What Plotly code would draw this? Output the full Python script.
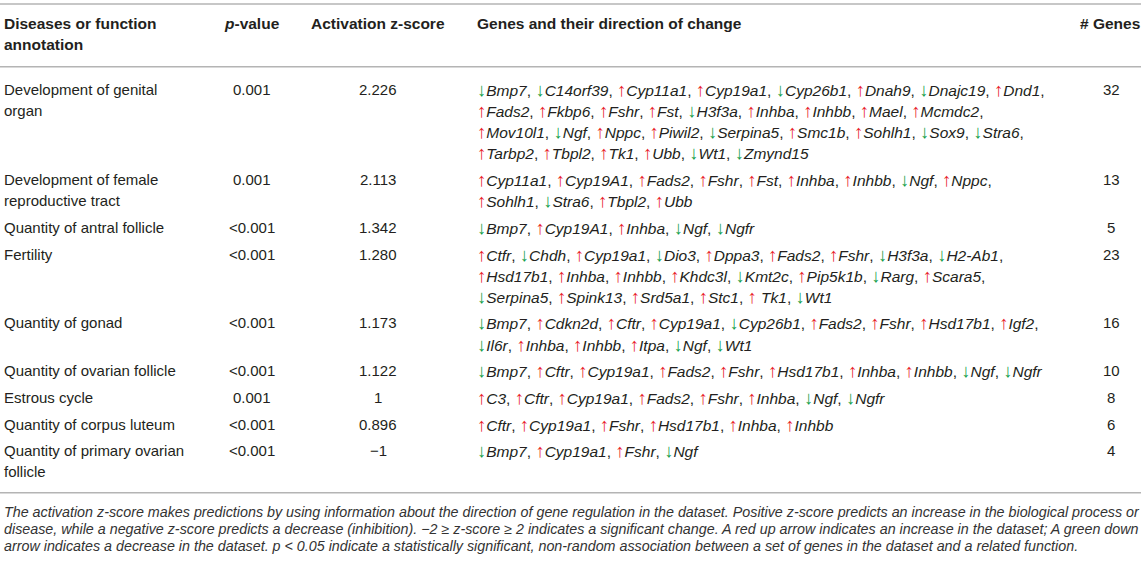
import plotly.graph_objects as go

# ---------------- data ----------------
headers = ["Diseases or function annotation", "<i>p</i>-value", "Activation z-score",
           "Genes and their direction of change", "# Genes"]

diseases = [
    "Development of genital organ",
    "Development of female reproductive tract",
    "Quantity of antral follicle",
    "Fertility",
    "Quantity of gonad",
    "Quantity of ovarian follicle",
    "Estrous cycle",
    "Quantity of corpus luteum",
    "Quantity of primary ovarian follicle",
]
p_values = ["0.001", "0.001", "<0.001", "<0.001", "<0.001", "<0.001", "0.001", "<0.001", "<0.001"]
z_scores = ["2.226", "2.113", "1.342", "1.280", "1.173", "1.122", "1", "0.896", "\u22121"]
n_genes = [32, 13, 5, 23, 16, 10, 8, 6, 4]

# '+' = up-regulated (red up arrow), '-' = down-regulated (green down arrow)
genes = [
    "-Bmp7 -C14orf39 +Cyp11a1 +Cyp19a1 -Cyp26b1 +Dnah9 -Dnajc19 +Dnd1 "
    "+Fads2 +Fkbp6 +Fshr +Fst -H3f3a +Inhba +Inhbb +Mael +Mcmdc2 "
    "+Mov10l1 -Ngf +Nppc +Piwil2 -Serpina5 +Smc1b +Sohlh1 -Sox9 -Stra6 "
    "+Tarbp2 +Tbpl2 +Tk1 +Ubb -Wt1 -Zmynd15",
    "+Cyp11a1 +Cyp19A1 +Fads2 +Fshr +Fst +Inhba +Inhbb -Ngf +Nppc "
    "+Sohlh1 -Stra6 +Tbpl2 +Ubb",
    "-Bmp7 +Cyp19A1 +Inhba -Ngf -Ngfr",
    "+Ctfr -Chdh +Cyp19a1 -Dio3 +Dppa3 +Fads2 +Fshr -H3f3a -H2-Ab1 "
    "+Hsd17b1 +Inhba +Inhbb +Khdc3l -Kmt2c +Pip5k1b -Rarg +Scara5 "
    "-Serpina5 +Spink13 +Srd5a1 +Stc1 +_Tk1 -Wt1",
    "-Bmp7 +Cdkn2d +Cftr +Cyp19a1 -Cyp26b1 +Fads2 +Fshr +Hsd17b1 +Igf2 "
    "-Il6r +Inhba +Inhbb +Itpa -Ngf -Wt1",
    "-Bmp7 +Cftr +Cyp19a1 +Fads2 +Fshr +Hsd17b1 +Inhba +Inhbb -Ngf -Ngfr",
    "+C3 +Cftr +Cyp19a1 +Fads2 +Fshr +Inhba -Ngf -Ngfr",
    "+Cftr +Cyp19a1 +Fshr +Hsd17b1 +Inhba +Inhbb",
    "-Bmp7 +Cyp19a1 +Fshr -Ngf",
]

footnote = [
    "The activation z-score makes predictions by using information about the direction of gene regulation in the dataset. Positive z-score predicts an increase in the biological process or",
    "disease, while a negative z-score predicts a decrease (inhibition). \u22122 \u2265 z-score \u2265 2 indicates a significant change. A red up arrow indicates an increase in the dataset; A green down",
    "arrow indicates a decrease in the dataset. p &lt; 0.05 indicate a statistically significant, non-random association between a set of genes in the dataset and a related function.",
]

# ---------------- layout / style ----------------
W, H = 1146, 561
FONT = "Liberation Sans, Arial, Helvetica, sans-serif"
TXT = "#231f20"
RED = "#e8232b"
GREEN = "#14a04b"
RULE = "#b4b4b4"
FS = 15
FS_GENE = 15.5
FS_HEAD = 15.5
FS_NOTE = 14.3
ARROW_STYLE = "font-size:18.5px"

X_DIS, X_P, X_Z, X_GENE, X_N, X_RIGHT = 3, 252, 378, 476, 1111, 1141
Y_TOP_RULE, Y_HEAD, HEAD_LH, Y_HEAD_RULE = 4, 23.5, 21.4, 66.7
Y_ROW0, LINE_H, ROW_PAD = 89.5, 21.1, 5.6
BOTTOM_GAP, NOTE_GAP, NOTE_LH = 20.8, 19.0, 17.2

DIS_FIRST_WORDS = [3, 3, None, None, None, None, None, None, 4]
GENE_LINES = [[8, 9, 9, 6], [9, 4], [5], [9, 8, 6], [9, 6], [10], [8], [6], [4]]


def gene_html(tok):
    d, name = tok[0], tok[1:].replace("_", " ")
    if d == "+":
        arrow = '<span style="color:%s;%s">\u2191</span>' % (RED, ARROW_STYLE)
    else:
        arrow = '<span style="color:%s;%s">\u2193</span>' % (GREEN, ARROW_STYLE)
    return arrow + "<i>" + name + "</i>"


def esc(s):
    return s.replace("<", "&lt;")


fig = go.Figure()
ann = []


def add(x, y, text, xanchor="left", size=FS, color=TXT):
    ann.append(dict(x=x, y=y, xref="x", yref="y", text=text, showarrow=False,
                    xanchor=xanchor, yanchor="middle", borderpad=0,
                    align=xanchor if xanchor != "center" else "center",
                    font=dict(family=FONT, size=size, color=color)))


# header
add(X_DIS, Y_HEAD, "<b>Diseases or function</b>", size=FS_HEAD)
add(X_DIS, Y_HEAD + HEAD_LH, "<b>annotation</b>", size=FS_HEAD)
add(X_P, Y_HEAD, "<b>" + headers[1] + "</b>", "center", size=FS_HEAD)
add(X_Z, Y_HEAD, "<b>" + headers[2] + "</b>", "center", size=FS_HEAD)
add(X_GENE, Y_HEAD, "<b>" + headers[3] + "</b>", size=FS_HEAD)
add(X_RIGHT, Y_HEAD, "<b>" + headers[4] + "</b>", "right", size=FS_HEAD)

y = Y_ROW0
for i in range(len(diseases)):
    words = diseases[i].split()
    k = DIS_FIRST_WORDS[i]
    dl = [diseases[i]] if k is None else [" ".join(words[:k]), " ".join(words[k:])]
    toks = genes[i].split()
    glines, pos = [], 0
    for c in GENE_LINES[i]:
        glines.append(toks[pos:pos + c])
        pos += c
    for j, t in enumerate(dl):
        add(X_DIS, y + j * LINE_H, t)
    add(X_P, y, esc(p_values[i]), "center")
    add(X_Z, y, z_scores[i], "center")
    for j, gl in enumerate(glines):
        s = ", ".join(gene_html(t) for t in gl)
        if j < len(glines) - 1:
            s += ","
        add(X_GENE, y + j * LINE_H, s, size=FS_GENE)
    add(X_N, y, str(n_genes[i]), "center")
    nl = max(len(dl), len(glines))
    last_y = y + (nl - 1) * LINE_H
    y = y + nl * LINE_H + ROW_PAD

Y_BOTTOM = last_y + BOTTOM_GAP
for j, t in enumerate(footnote):
    add(X_DIS, Y_BOTTOM + NOTE_GAP + j * NOTE_LH, "<i>" + t + "</i>", size=FS_NOTE, color="#333333")

shapes = []
for yy in (Y_TOP_RULE, Y_HEAD_RULE, Y_BOTTOM):
    shapes.append(dict(type="line", xref="x", yref="y", x0=0, x1=X_RIGHT, y0=yy, y1=yy,
                       line=dict(color=RULE, width=1.6)))

fig.update_layout(
    width=W, height=H, margin=dict(l=0, r=0, t=0, b=0),
    paper_bgcolor="white", plot_bgcolor="white",
    xaxis=dict(range=[0, W], visible=False, fixedrange=True),
    yaxis=dict(range=[H, 0], visible=False, fixedrange=True),
    annotations=ann, shapes=shapes, showlegend=False,
)
fig.write_html("out.html", config={"displayModeBar": False},
               post_script="document.body.style.margin='0';document.body.style.overflow='hidden';")
